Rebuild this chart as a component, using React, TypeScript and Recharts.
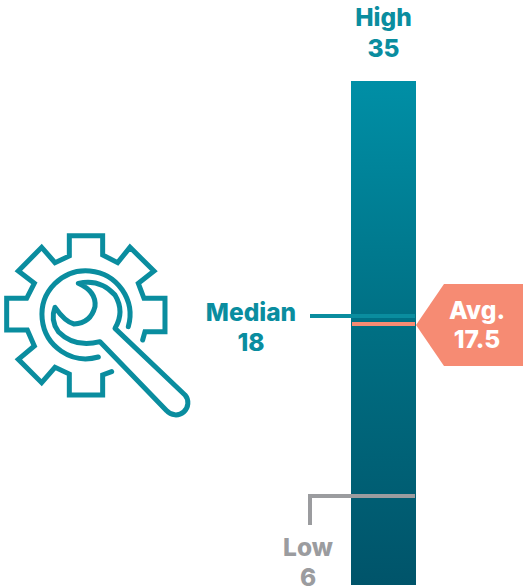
import React from "react";
import { ComposedChart, Bar, XAxis, YAxis, ReferenceLine } from "recharts";

const categories = ["Score"];
const highValues = [35];
const lowValues = [6];
const medianValues = [18];
const averageValues = [17.5];
const labels = { high: "High", low: "Low", median: "Median", average: "Avg." };

const TEAL = "#0a8d9f";
const SALMON = "#f68b73";
const GRAY = "#9b9c9f";
const FONT = "Inter, 'Noto Sans', sans-serif";

const data = categories.map((name, i) => ({ name, high: highValues[i] }));

function Txt({ x, y, fill, size = 24.5, children }: any) {
  return (
    <text x={x} y={y} fill={fill} textAnchor="middle" fontFamily={FONT} fontWeight={800} fontSize={size}>
      {children}
    </text>
  );
}

const HighShape = ({ x1, x2, y1 }: any) => {
  const cx = (x1 + x2) / 2;
  return (
    <g>
      <Txt x={cx} y={y1 - 35} fill={TEAL}>{labels.high}</Txt>
      <Txt x={cx} y={y1 - 4} fill={TEAL}>{highValues[0]}</Txt>
    </g>
  );
};

const MedianShape = ({ x1, x2, y1 }: any) => (
  <g>
    <line x1={x1 - 41} x2={x2 - 1} y1={y1} y2={y1} stroke={TEAL} strokeWidth={4} />
    <Txt x={x1 - 100} y={y1 + 5} fill={TEAL}>{labels.median}</Txt>
    <Txt x={x1 - 100} y={y1 + 35} fill={TEAL}>{medianValues[0]}</Txt>
  </g>
);

const AverageShape = ({ x1, x2, y1 }: any) => {
  const tipY = y1 + 1.5;
  return (
    <g>
      <line x1={x1 + 1} x2={x2 - 1} y1={y1 + 0.5} y2={y1 + 0.5} stroke={SALMON} strokeWidth={4} />
      <polygon
        points={`${x2},${tipY} ${x2 + 28},${tipY - 41} ${x2 + 107},${tipY - 41} ${x2 + 107},${tipY + 41} ${x2 + 28},${tipY + 41}`}
        fill={SALMON}
      />
      <Txt x={x2 + 61} y={y1 - 5} fill="#ffffff">{labels.average}</Txt>
      <Txt x={x2 + 61} y={y1 + 24} fill="#ffffff">{averageValues[0]}</Txt>
    </g>
  );
};

const LowShape = ({ x1, x2, y1 }: any) => (
  <g>
    <path
      d={`M${x1 - 41} ${y1 + 29} V${y1} H${x2 - 1}`}
      fill="none"
      stroke={GRAY}
      strokeWidth={4}
    />
    <Txt x={x1 - 43} y={y1 + 60} fill={GRAY}>{labels.low}</Txt>
    <Txt x={x1 - 43} y={y1 + 90} fill={GRAY}>{lowValues[0]}</Txt>
  </g>
);

const GearIcon = () => (
  <g transform="translate(0 220) scale(0.3333)" fill="none" stroke={TEAL} strokeWidth={15} strokeLinecap="round" strokeLinejoin="miter">
    <path d="M335 455 L308 465 V525 H208 V462 L165 442 L125 488 L55 418 L103 378 L82 330 H20 V235 H80 L103 190 L55 153 L125 82 L165 128 L208 108 V47 H308 V105 L353 128 L390 82 L462 153 L415 190 L432 235 H495 V335 H435 L428 360" />
    <path d="M385 320 A132 132 0 1 0 295 411" />
    <path
      strokeLinejoin="round"
      d="M235 190 Q290 215 285 260 Q272 310 222 312 Q195 305 165 262 Q150 300 175 335 Q225 385 300 365 L500 572 A36 36 0 0 0 555 525 L345 325 Q375 275 345 225 Q300 175 235 190 Z"
    />
  </g>
);

export default function App() {
  return (
    <div style={{ position: "absolute", left: 0, top: 0 }}>
      <ComposedChart
        width={523}
        height={587}
        data={data}
        margin={{ top: 81, right: 107, bottom: 2, left: 351 }}
        barCategoryGap={0}
      >
        <defs>
          <linearGradient id="barFill" gradientUnits="userSpaceOnUse" x1="0" y1="81" x2="0" y2="585">
            <stop offset="0" stopColor="#008fa6" />
            <stop offset="0.5" stopColor="#006f83" />
            <stop offset="1" stopColor="#00546a" />
          </linearGradient>
        </defs>
        <XAxis dataKey="name" hide />
        <YAxis hide domain={[0.07, 33.67]} allowDataOverflow />
        <Bar dataKey="high" fill="url(#barFill)" isAnimationActive={false} />
        <ReferenceLine y={highValues[0]} ifOverflow="visible" shape={HighShape} />
        <ReferenceLine y={averageValues[0]} ifOverflow="visible" shape={AverageShape} />
        <ReferenceLine y={medianValues[0]} ifOverflow="visible" shape={MedianShape} />
        <ReferenceLine y={lowValues[0]} ifOverflow="visible" shape={LowShape} />
        <GearIcon />
      </ComposedChart>
    </div>
  );
}
